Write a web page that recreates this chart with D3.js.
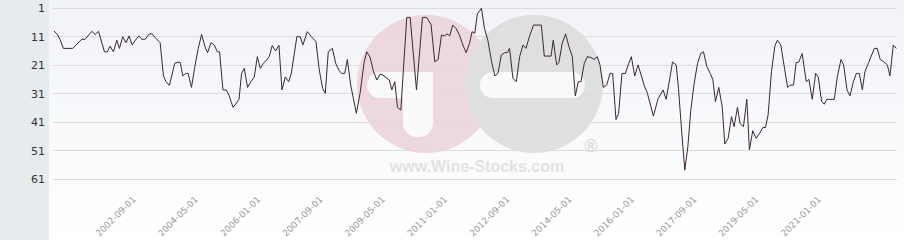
<!DOCTYPE html>
<html>
<head>
<meta charset="utf-8">
<script src="https://cdn.jsdelivr.net/npm/d3@7"></script>
<style>
  body { margin: 0; background: #fff; }
  svg { display: block; }
</style>
</head>
<body>
<div id="chart"></div>
<script>
// decimal years of each vertex
var years = [
  2000.58,2000.67,2000.74,2000.83,2001.08,2001.32,2001.41,2001.59,2001.68,2001.77,
  2001.93,2002.01,2002.08,2002.17,2002.26,2002.33,2002.42,2002.51,2002.59,2002.67,
  2002.76,2002.85,2002.93,2003.02,2003.13,2003.20,2003.31,2003.42,2003.51,2003.58,
  2003.67,2003.81,2003.90,2003.96,2004.03,2004.10,2004.17,2004.26,2004.35,2004.44,
  2004.53,2004.62,2004.69,2004.78,2004.87,2004.95,2005.01,2005.10,2005.19,2005.26,
  2005.37,2005.44,2005.53,2005.60,2005.67,2005.76,2005.85,2005.94,2006.02,2006.10,
  2006.18,2006.28,2006.34,2006.42,2006.51,2006.60,2006.68,2006.77,2006.86,2006.93,
  2007.08,2007.17,2007.24,2007.36,2007.47,2007.59,2007.68,2007.77,2007.84,2007.92,
  2008.03,2008.12,2008.21,2008.28,2008.36,2008.43,2008.52,2008.67,2008.77,2008.88,
  2008.95,2009.04,2009.13,2009.22,2009.31,2009.38,2009.46,2009.55,2009.62,2009.70,
  2009.77,2009.86,2010.02,2010.11,2010.28,2010.44,2010.55,2010.67,2010.77,2010.86,
  2010.95,2011.03,2011.10,2011.17,2011.25,2011.34,2011.43,2011.52,2011.61,2011.70,
  2011.77,2011.84,2011.91,2012.02,2012.10,2012.19,2012.29,2012.38,2012.46,2012.55,
  2012.64,2012.71,2012.77,2012.86,2012.95,2013.04,2013.13,2013.21,2013.30,2013.41,
  2013.62,2013.70,2013.88,2013.94,2014.03,2014.09,2014.18,2014.27,2014.36,2014.45,
  2014.53,2014.61,2014.68,2014.77,2014.85,2014.95,2015.03,2015.12,2015.19,2015.28,
  2015.37,2015.46,2015.53,2015.62,2015.69,2015.78,2015.87,2015.96,2016.03,2016.12,
  2016.21,2016.30,2016.37,2016.46,2016.62,2016.74,2016.88,2016.96,2017.05,2017.13,
  2017.23,2017.29,2017.38,2017.46,2017.54,2017.62,2017.71,2017.80,2017.89,2017.96,
  2018.05,2018.14,2018.21,2018.28,2018.37,2018.46,2018.53,2018.62,2018.71,2018.78,
  2018.87,2018.94,2019.03,2019.12,2019.19,2019.28,2019.37,2019.46,2019.55,2019.62,
  2019.69,2019.78,2019.87,2019.94,2020.03,2020.21,2020.28,2020.37,2020.44,2020.51,
  2020.60,2020.71,2020.78,2020.87,2020.96,2021.03,2021.12,2021.19,2021.26,2021.46,
  2021.54,2021.64,2021.71,2021.80,2021.88,2021.97,2022.05,2022.13,2022.21,2022.28,
  2022.37,2022.45,2022.53,2022.61,2022.69,2022.78,2022.88,2022.95,2023.04,2023.12
];

// rank at each vertex (1 = best, drawn at the top)
var ranks = [
  9.1,10.3,12.0,15.2,15.2,12.0,12.0,9.2,10.3,9.2,
  16.4,16.4,14.4,16.4,12.3,15.2,11.1,13.2,10.8,14.0,
  12.3,10.8,12.0,12.0,10.1,10.1,11.7,13.2,24.9,26.9,
  28.2,20.5,20.0,20.2,24.9,24.0,24.0,28.9,21.6,15.2,
  10.3,14.6,16.7,13.2,14.0,16.4,16.4,29.8,29.8,31.6,
  35.9,34.8,33.1,24.0,22.2,28.9,26.9,25.2,18.1,22.2,
  20.5,19.1,18.1,14.2,16.1,14.1,29.8,25.2,26.9,24.0,
  11.1,11.1,14.0,9.3,11.1,12.8,22.8,29.3,31.0,16.4,
  15.2,20.5,23.0,24.0,24.0,19.1,28.1,38.0,31.0,19.9,
  16.4,18.4,23.4,26.3,24.2,24.6,25.4,26.3,29.8,26.9,
  35.9,36.9,4.3,4.3,29.8,4.3,4.3,6.8,19.9,19.1,
  10.5,10.8,10.1,10.8,7.0,8.2,10.5,14.0,16.7,13.4,
  9.3,9.9,3.1,1.1,8.2,12.3,19.9,24.9,24.0,17.5,
  16.7,16.7,15.2,25.7,26.9,18.1,14.0,15.2,11.1,7.0,
  7.0,17.9,17.9,12.3,21.0,20.2,13.4,10.1,14.6,18.1,
  31.9,26.9,26.9,20.5,18.1,18.4,19.1,18.1,21.0,28.9,
  28.1,24.0,24.0,40.2,38.0,24.0,24.0,20.5,18.1,24.9,
  21.0,24.9,28.1,31.0,39.0,33.0,29.8,33.1,26.3,20.0,
  21.0,29.3,45.1,58.0,49.8,36.9,27.5,20.5,16.9,16.4,
  21.6,24.0,26.1,33.9,28.9,35.7,48.8,46.8,39.2,42.7,
  35.9,41.6,42.7,33.1,50.9,44.1,46.8,45.1,43.0,43.0,
  38.6,23.4,14.4,12.3,14.0,28.9,28.1,28.1,20.2,20.0,
  17.0,26.9,26.1,33.1,24.0,25.2,33.9,34.8,33.1,33.1,
  25.2,19.1,21.0,29.8,31.9,26.9,24.0,24.0,29.8,23.4,
  20.5,17.9,15.2,15.2,19.1,19.9,21.0,24.9,14.0,15.2
];

var yTicks = [1, 11, 21, 31, 41, 51, 61];
var xTickLabels = ["2002-09-01","2004-05-01","2006-01-01","2007-09-01","2009-05-01","2011-01-01",
  "2012-09-01","2014-05-01","2016-01-01","2017-09-01","2019-05-01","2021-01-01"];

var svgWidth = 904, svgHeight = 240;
var plotLeft = 53, plotRight = 897;

function toDate(t) {
  var y = Math.floor(t);
  var s = Date.UTC(y, 0, 1), e = Date.UTC(y + 1, 0, 1);
  return new Date(s + (t - y) * (e - s));
}

var data = years.map(function(t, i) { return {date: toDate(t), rank: ranks[i]}; });

var svg = d3.select("#chart").append("svg")
  .attr("width", svgWidth)
  .attr("height", svgHeight);

var defs = svg.append("defs");
var grad = defs.append("linearGradient").attr("id", "plotbg")
  .attr("x1", 0).attr("y1", 0).attr("x2", 0).attr("y2", 1);
grad.append("stop").attr("offset", "0%").attr("stop-color", "#f1f3f7");
grad.append("stop").attr("offset", "100%").attr("stop-color", "#ffffff");

// backgrounds
svg.append("rect").attr("x", 0).attr("y", 0).attr("width", 49).attr("height", svgHeight)
  .attr("fill", "#e8ebee");
svg.append("rect").attr("x", 49).attr("y", 0).attr("width", svgWidth - 49).attr("height", svgHeight)
  .attr("fill", "url(#plotbg)");

var x = d3.scaleUtc()
  .domain([toDate(years[0]), toDate(years[years.length - 1])])
  .range([54, 896.3]);

var y = d3.scaleLinear()
  .domain([1, 61])
  .range([8, 178.7]);

// grid lines
svg.append("g").selectAll("line").data(yTicks).enter().append("line")
  .attr("x1", plotLeft).attr("x2", plotRight)
  .attr("y1", d => Math.round(y(d)) + 0.5).attr("y2", d => Math.round(y(d)) + 0.5)
  .attr("stroke", "#dcdcdc").attr("stroke-width", 1);

// watermark logo
var wm = svg.append("g").attr("opacity", 0.85);
wm.append("circle").attr("cx", 426).attr("cy", 84).attr("r", 69).attr("fill", "#ecd3da");
wm.append("circle").attr("cx", 534).attr("cy", 84).attr("r", 69).attr("fill", "#dcdcdc");
wm.append("rect").attr("x", 367).attr("y", 72).attr("width", 66).attr("height", 26).attr("rx", 13)
  .attr("fill", "#fbfbfc");
wm.append("rect").attr("x", 403).attr("y", 72).attr("width", 30).attr("height", 65).attr("rx", 14)
  .attr("fill", "#fbfbfc");
wm.append("rect").attr("x", 403).attr("y", 72).attr("width", 30).attr("height", 26)
  .attr("fill", "#fbfbfc");
wm.append("rect").attr("x", 480).attr("y", 72).attr("width", 105).attr("height", 26).attr("rx", 13)
  .attr("fill", "#fbfbfc");
wm.append("text").attr("x", 477).attr("y", 172).attr("text-anchor", "middle")
  .attr("font-family", "Liberation Sans, Arial, sans-serif").attr("font-weight", "bold")
  .attr("font-size", 16).attr("fill", "#dedede").text("www.Wine-Stocks.com");
wm.append("text").attr("x", 591).attr("y", 152).attr("text-anchor", "middle")
  .attr("font-family", "Liberation Sans, Arial, sans-serif").attr("font-weight", "bold")
  .attr("font-size", 18).attr("fill", "#d6d6d6").text("®");

// y axis labels
var leftAxis = d3.axisLeft(y).tickValues(yTicks).tickSize(0).tickPadding(0);
var yAxisG = svg.append("g").attr("transform", "translate(45,0)").call(leftAxis);
yAxisG.select(".domain").remove();
yAxisG.selectAll("text")
  .attr("font-family", "DejaVu Sans, sans-serif").attr("font-size", 11)
  .attr("fill", "#333").attr("dy", "0.35em");

// x axis labels, rotated
var bottomAxis = d3.axisBottom(x)
  .tickValues(xTickLabels.map(d => new Date(d)))
  .tickFormat(d3.utcFormat("%Y-%m-%d"))
  .tickSize(0);
var xAxisG = svg.append("g").attr("transform", "translate(0,196)").call(bottomAxis);
xAxisG.select(".domain").remove();
xAxisG.selectAll("text")
  .attr("font-family", "DejaVu Sans, sans-serif").attr("font-size", 9)
  .attr("fill", "#9a9a9a")
  .attr("text-anchor", "end")
  .attr("x", 0).attr("y", 0).attr("dy", 0)
  .attr("transform", "translate(4,4) rotate(-45)");

// the line
var line = d3.line().x(d => x(d.date)).y(d => y(d.rank));
svg.append("path").datum(data)
  .attr("d", line)
  .attr("fill", "none")
  .attr("stroke", "#3b2732")
  .attr("stroke-width", 1)
  .attr("stroke-linejoin", "round");
</script>
</body>
</html>
